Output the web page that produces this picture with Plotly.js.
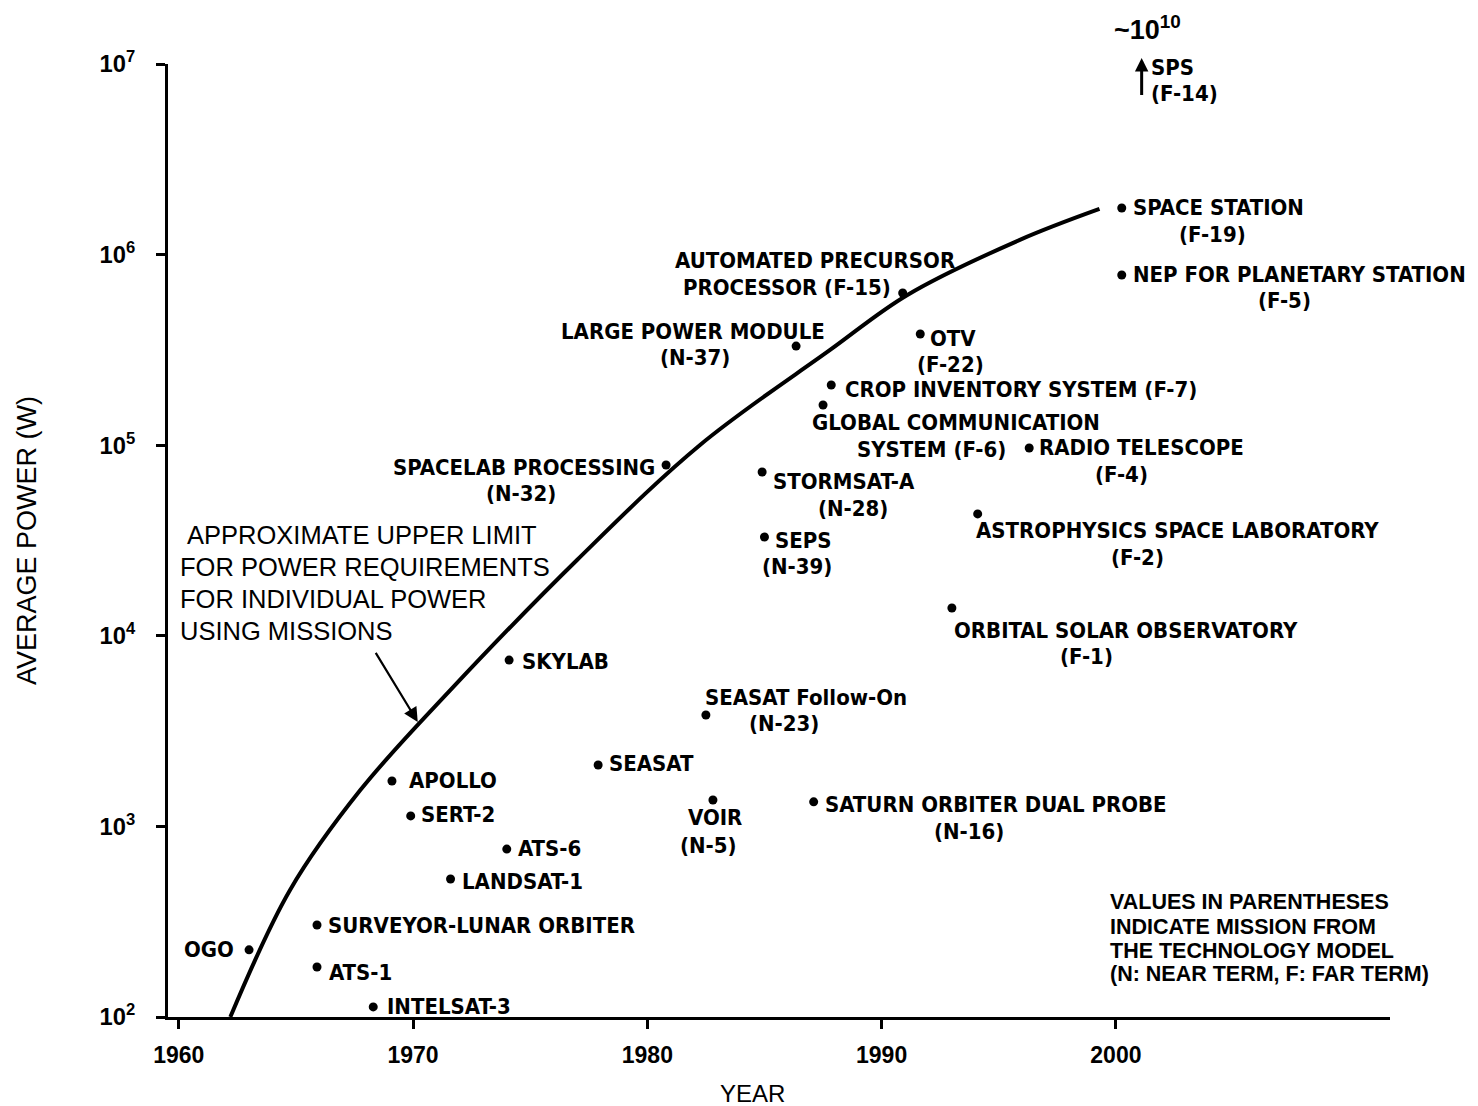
<!DOCTYPE html>
<html>
<head>
<meta charset="utf-8">
<script src="https://cdn.plot.ly/plotly-3.0.1.min.js"></script>
<style>html,body{margin:0;padding:0;background:#fff;}</style>
</head>
<body>
<div id="chart" style="width:1478px;height:1106px;"></div>
<script>
// ---------------- data ----------------
const missions = ["OGO","SURVEYOR-LUNAR ORBITER","ATS-1","INTELSAT-3","APOLLO","SERT-2","ATS-6","LANDSAT-1",
  "SKYLAB","SEASAT","SEASAT Follow-On","VOIR","SATURN ORBITER DUAL PROBE","SPACELAB PROCESSING",
  "LARGE POWER MODULE","AUTOMATED PRECURSOR PROCESSOR","STORMSAT-A","SEPS","CROP INVENTORY SYSTEM",
  "GLOBAL COMMUNICATION SYSTEM","OTV","RADIO TELESCOPE","ASTROPHYSICS SPACE LABORATORY",
  "ORBITAL SOLAR OBSERVATORY","SPACE STATION","NEP FOR PLANETARY STATION"];
const codes = ["","","","","","","","","","","N-23","N-5","N-16","N-32","N-37","F-15","N-28","N-39","F-7",
  "F-6","F-22","F-4","F-2","F-1","F-19","F-5"];
const years = [1963.0,1965.9,1965.9,1968.3,1969.1,1969.9,1974.0,1971.6,1974.1,1977.9,1982.5,1982.8,1987.1,
  1980.8,1986.35,1990.9,1984.9,1985.0,1987.85,1987.5,1991.65,1996.3,1994.1,1993.0,2000.25,2000.25];
const powerW = [225,304,183,113,1730,1135,760,530,7460,2100,3840,1375,1345,78700,331000,629000,72300,33000,
  207000,162500,383000,96700,43600,14000,1757000,782000];

// approximate upper limit curve
const upperLimitYears = [1962.2,1964.75,1967.75,1971.6,1977.0,1982.25,1987.8,1991.1,1995.9,1999.3];
const upperLimitPower = [100,464,1550,5200,25000,100300,316000,614000,1194000,1735000];

// off-scale mission
const spsYear = 2001.1;
const spsLabel = ["SPS","(F-14)","~10<sup>10</sup>"];

const xTickVals = [1960,1970,1980,1990,2000];
const xTickText = ["1960","1970","1980","1990","2000"];

const noteLines = ["VALUES IN PARENTHESES","INDICATE MISSION FROM","THE TECHNOLOGY MODEL","(N: NEAR TERM, F: FAR TERM)"];
const limitLines = ["\u00a0APPROXIMATE UPPER LIMIT","FOR POWER REQUIREMENTS","FOR INDIVIDUAL POWER","USING MISSIONS"];

// ---------------- label placement (pixels relative to each dot) ----------------
// [text, xanchor, xshift, yshift]
const labelSpec = [
  [["OGO","right",-13,0]],
  [["SURVEYOR-LUNAR ORBITER","left",9,-1]],
  [["ATS-1","left",10,-6]],
  [["INTELSAT-3","left",12,0]],
  [["APOLLO","left",15,1]],
  [["SERT-2","left",8,1]],
  [["ATS-6","left",9,1]],
  [["LANDSAT-1","left",9,-3]],
  [["SKYLAB","left",11,-1]],
  [["SEASAT","left",9,1]],
  [["SEASAT Follow-On","left",-3,18],["(N-23)","center",78,-8]],
  [["VOIR","center",2,-17],["(N-5)","center",-4,-45]],
  [["SATURN ORBITER DUAL PROBE","left",9,-3],["(N-16)","center",155,-30]],
  [["SPACELAB PROCESSING","right",-9,-2],["(N-32)","center",-145,-28]],
  [["LARGE POWER MODULE","center",-103,15],["(N-37)","center",-101,-11]],
  [["AUTOMATED PRECURSOR","center",-88,32],["PROCESSOR (F-15)","right",-10,5]],
  [["STORMSAT-A","left",9,-9],["(N-28)","center",91,-36]],
  [["SEPS","left",9,-4],["(N-39)","center",33,-30]],
  [["CROP INVENTORY SYSTEM (F-7)","left",12,-5]],
  [["GLOBAL COMMUNICATION","center",133,-17],["SYSTEM (F-6)","right",185,-44]],
  [["OTV","left",8,-4],["(F-22)","center",30,-30]],
  [["RADIO TELESCOPE","left",8,0],["(F-4)","center",92,-27]],
  [["ASTROPHYSICS SPACE LABORATORY","left",-4,-17],["(F-2)","center",160,-44]],
  [["ORBITAL SOLAR OBSERVATORY","left",0,-23],["(F-1)","center",135,-49]],
  [["SPACE STATION","left",9,0],["(F-19)","center",91,-27]],
  [["NEP FOR PLANETARY STATION","left",9,0],["(F-5)","center",163,-26]]
];

const NARROW = "'Liberation Sans Narrow','Arial Narrow','DejaVu Sans Condensed',sans-serif";
const SANS = "'Liberation Sans',Arial,Helvetica,sans-serif";
const labelFont = {family: NARROW, size: 22, color: "#000", weight: "bold"};

const annotations = [];
labelSpec.forEach((lines, i) => {
  lines.forEach(l => {
    annotations.push({
      x: years[i], y: Math.log10(powerW[i]), xref: "x", yref: "y",
      text: l[0], xanchor: l[1], yanchor: "middle", xshift: l[2], yshift: l[3],
      showarrow: false, font: labelFont
    });
  });
});

// arrow for the upper-limit caption
annotations.push({
  x: 1970.2, y: 3.548, xref: "x", yref: "y", text: " ", showarrow: true,
  ax: -45, ay: -74, arrowhead: 2, arrowsize: 1.3, arrowwidth: 2.2, arrowcolor: "#000", standoff: 0
});
// caption lines
const capTop = 535, capStep = 32;
limitLines.forEach((t, k) => {
  annotations.push({
    x: 0.008, y: (1017 - (capTop + k * capStep)) / 953, xref: "paper", yref: "paper",
    xanchor: "left", yanchor: "middle", align: "left",
    text: t, showarrow: false, font: {family: SANS, size: 25.5, color: "#000"}
  });
});
// note lines
const noteY = [902, 927, 951, 974];
noteLines.forEach((t, k) => {
  annotations.push({
    x: 0.769, y: (1017 - noteY[k]) / 953, xref: "paper", yref: "paper",
    xanchor: "left", yanchor: "middle", align: "left",
    text: t, showarrow: false, font: {family: SANS, size: 21.5, color: "#000", weight: "bold"}
  });
});
// SPS off-scale arrow and labels
annotations.push({
  x: spsYear, y: 1.0063, xref: "x", yref: "paper", text: " ", showarrow: true,
  ax: 0, ay: 47, arrowhead: 2, arrowsize: 0.9, arrowwidth: 3, arrowcolor: "#000", standoff: 0
});
annotations.push({x: spsYear, y: (1017-67)/953, xref: "x", yref: "paper", xanchor: "left", yanchor: "middle",
  xshift: 7, text: spsLabel[0], showarrow: false, font: labelFont});
annotations.push({x: spsYear, y: (1017-93)/953, xref: "x", yref: "paper", xanchor: "left", yanchor: "middle",
  xshift: 7, text: spsLabel[1], showarrow: false, font: labelFont});
annotations.push({x: spsYear, y: (1017-28)/953, xref: "x", yref: "paper", xanchor: "center", yanchor: "middle",
  xshift: 6, text: spsLabel[2], showarrow: false, font: {family: SANS, size: 27, color: "#000", weight: "bold"}});
// x-axis title placed as in the reference (left of centre)
annotations.push({x: (752 - 168) / 1222, y: (1017 - 1093) / 953, xref: "paper", yref: "paper",
  xanchor: "center", yanchor: "middle", text: "YEAR", showarrow: false,
  font: {family: SANS, size: 24, color: "#000"}});

const traces = [
  {
    x: upperLimitYears, y: upperLimitPower, type: "scatter", mode: "lines",
    line: {color: "#000", width: 4, shape: "spline", smoothing: 1},
    hoverinfo: "skip", showlegend: false
  },
  {
    x: years, y: powerW, type: "scatter", mode: "markers",
    marker: {color: "#000", size: 9},
    text: missions.map((m, i) => codes[i] ? m + " (" + codes[i] + ")" : m),
    hoverinfo: "text", showlegend: false
  }
];

const layout = {
  width: 1478, height: 1106,
  margin: {l: 168, r: 88, t: 64, b: 89},
  paper_bgcolor: "#fff", plot_bgcolor: "#fff",
  showlegend: false,
  xaxis: {
    range: [1959.54, 2011.7], tickmode: "array", tickvals: xTickVals, ticktext: xTickText,
    ticks: "outside", ticklen: 9, tickwidth: 3, tickcolor: "#000",
    showline: true, linewidth: 3, linecolor: "#000", mirror: false,
    showgrid: false, zeroline: false, automargin: false, ticklabelstandoff: 6,
    tickfont: {family: SANS, size: 23, color: "#000", weight: "bold"}
  },
  yaxis: {
    type: "log", range: [2, 7], tickmode: "linear", tick0: 0, dtick: 1, exponentformat: "power",
    ticks: "outside", ticklen: 9, tickwidth: 3, tickcolor: "#000",
    showline: true, linewidth: 3, linecolor: "#000",
    showgrid: false, zeroline: false, automargin: false, ticklabelstandoff: 17,
    tickfont: {family: SANS, size: 19, color: "#000", weight: "bold"},
    title: {text: "AVERAGE POWER (W)", font: {family: SANS, size: 27, color: "#000"}, standoff: 56}
  },
  annotations: annotations
};

Plotly.newPlot("chart", traces, layout, {displayModeBar: false, staticPlot: true});
</script>
</body>
</html>
